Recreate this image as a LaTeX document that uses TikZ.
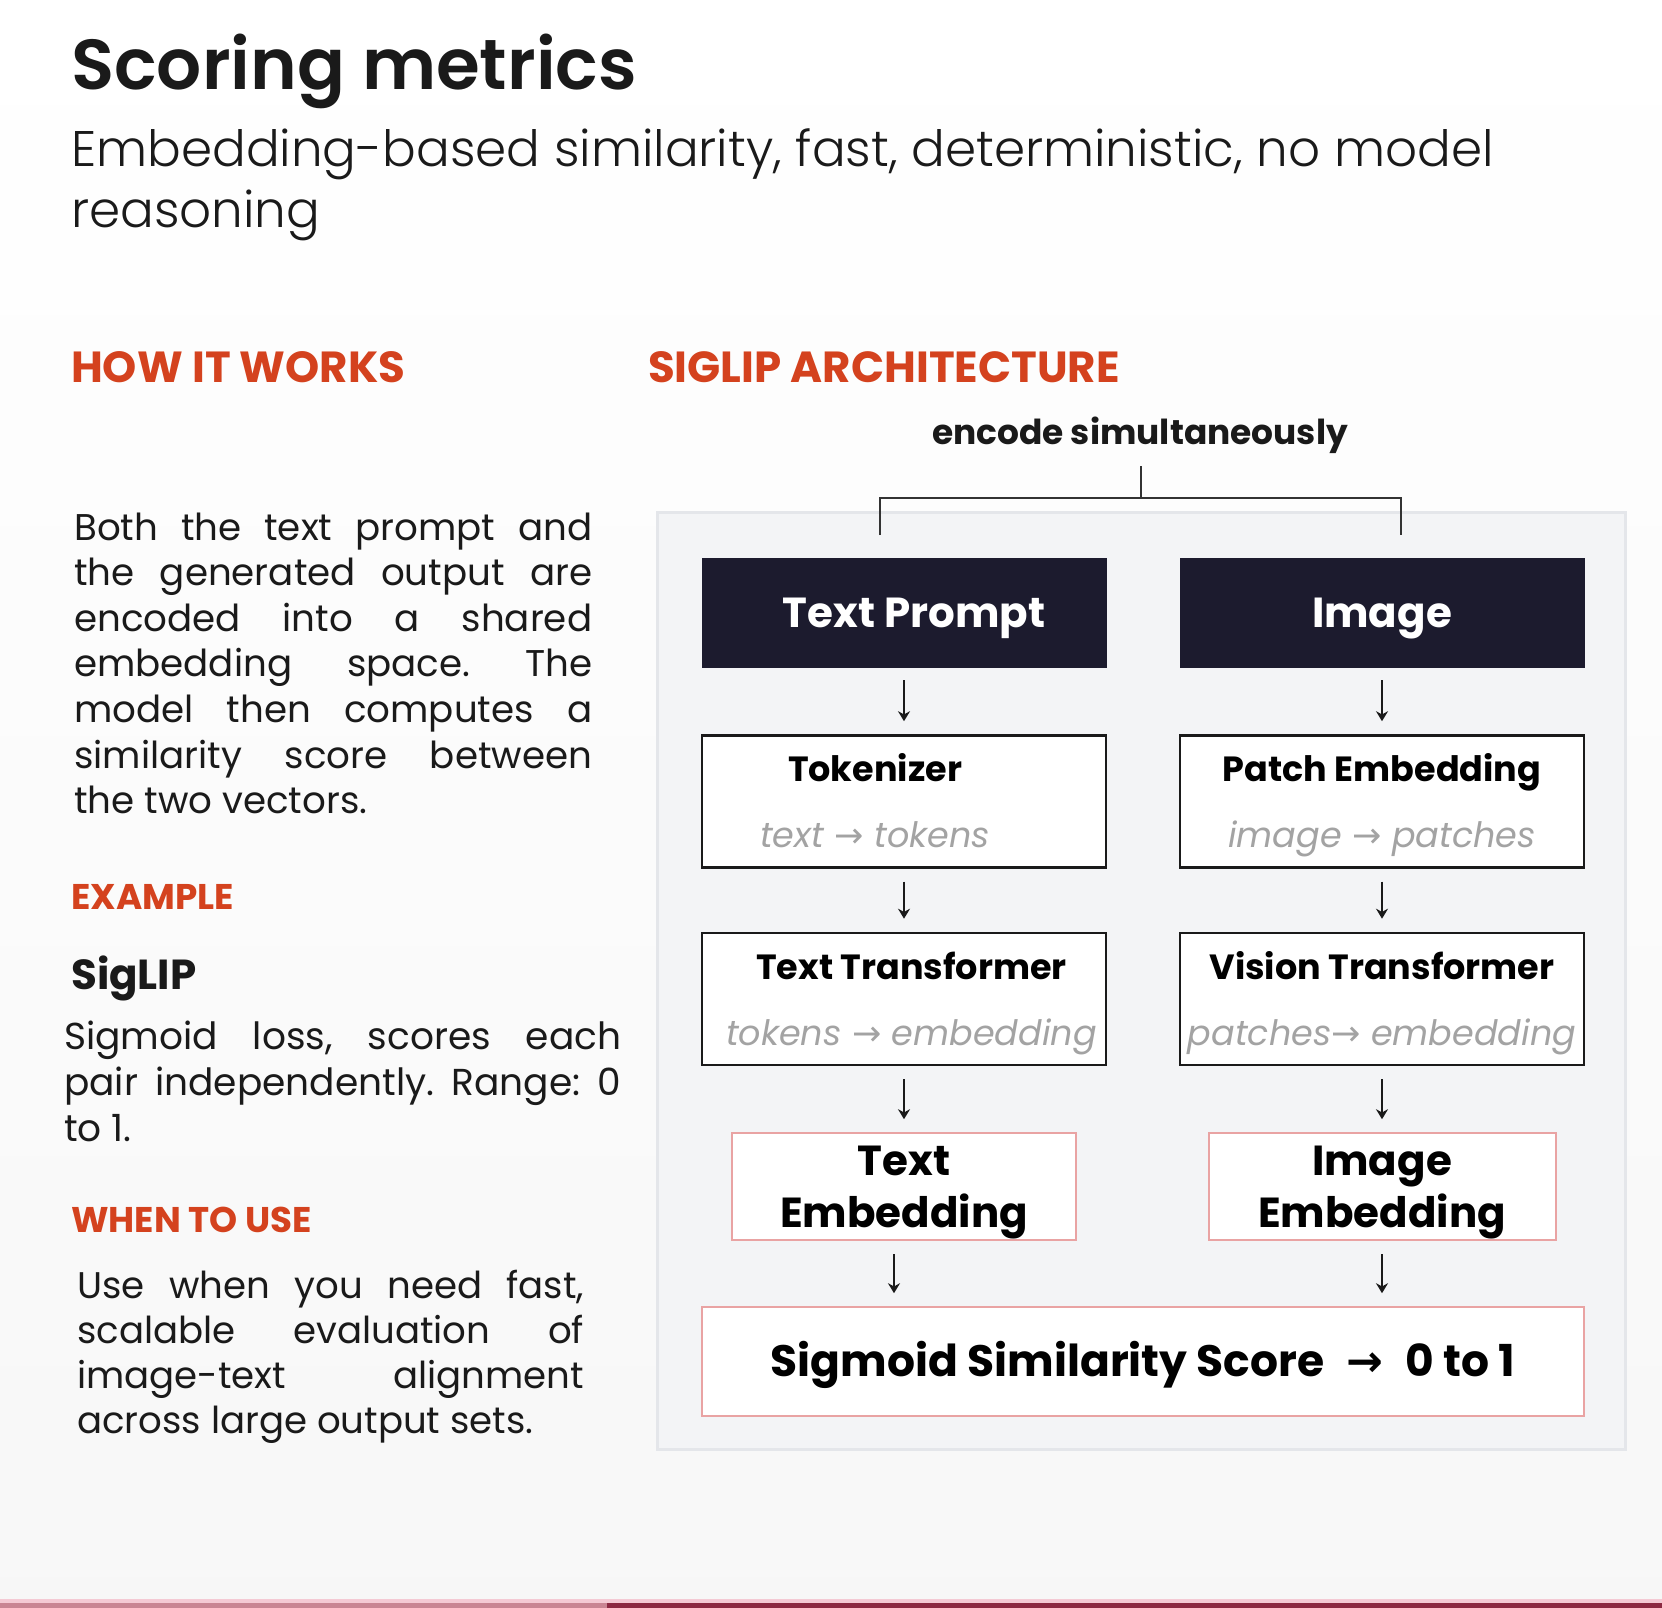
\documentclass[tikz,border=0pt]{standalone}
\usepackage{fontspec}
\setmainfont{Poppins}
\newfontfamily\semibold{Poppins SemiBold}
\newfontfamily\light{Poppins Light}
\newfontfamily\arrowfont{DejaVu Sans}
\usepackage{xcolor}
\usetikzlibrary{arrows.meta, positioning, calc}
\frenchspacing

\definecolor{accent}{HTML}{D4421E}
\definecolor{ink}{HTML}{1A1A1A}
\definecolor{navy}{HTML}{1C1B2E}
\definecolor{panelbg}{HTML}{F3F4F6}
\definecolor{panelrule}{HTML}{E4E6EA}
\definecolor{softred}{HTML}{E9A3A3}
\definecolor{hint}{HTML}{A3A3A3}
\definecolor{barpink}{HTML}{F4CAD4}
\definecolor{barlight}{HTML}{C98593}
\definecolor{bardark}{HTML}{8C2942}

% one justified line of a paragraph
\newcommand{\jl}[1]{\makebox[\hsize][s]{#1}}
\newcommand{\arr}{{\arrowfont\upshape →}}

\begin{document}
\begin{tikzpicture}[x=1pt, y=-1pt,
  heading/.style={anchor=base west, inner sep=0, text=accent, font=\fontsize{43.5}{50}\selectfont\bfseries},
  subhead/.style={heading, font=\fontsize{35.7}{44}\selectfont\bfseries},
  para/.style={anchor=base west, inner sep=0, align=justify, text=ink},
  inbox/.style={draw=navy, fill=navy, text=white, minimum width=404pt, minimum height=109pt, inner sep=0, text height=30pt, text depth=0pt, font=\fontsize{42}{50}\selectfont\bfseries},
  stage/.style={draw=ink, line width=2.5pt, fill=white, minimum width=404pt, minimum height=131pt, inner sep=0, align=center, font=\fontsize{35}{66}\selectfont},
  embed/.style={draw=softred, line width=2pt, fill=white, minimum width=344pt, minimum height=107pt, inner sep=0, align=center, text depth=0pt, font=\fontsize{42}{52}\selectfont\bfseries},
  score/.style={embed, minimum width=882pt, minimum height=109pt, text height=30pt, font=\fontsize{44}{52}\selectfont\bfseries},
  flow/.style={-{Stealth[length=10pt, width=12pt]}, line width=2pt, draw=ink, shorten <=13pt, shorten >=13pt},
  bracket/.style={line width=2.5pt, draw=black!80}
]
\useasboundingbox (0,0) rectangle (1662,1608);
\fill[top color=white, bottom color=black!3] (0,0) rectangle (1662,1608);
\fill[barpink] (0,1599) rectangle (1662,1603);
\fill[barlight] (0,1603) rectangle (607,1608);
\fill[bardark] (607,1603) rectangle (1662,1608);

% title
\node[anchor=base west, inner sep=0, text=ink, font=\fontsize{70.8}{80}\selectfont\semibold] (title) at (71,90) {Scoring metrics};
\node[anchor=base west, inner sep=0, align=left, text=ink, font=\fontsize{50}{60}\selectfont\light] (subtitle) at (71,227) {Embedding-based similarity, fast, deterministic, no model\\reasoning};

% left column
\node[heading] (how) at (71,382) {HOW IT WORKS};
\node[para, text width=518pt, font=\fontsize{37.2}{45.6}\selectfont] (howtxt) at (74,540) {\jl{Both the text prompt and}\\\jl{the generated output are}\\\jl{encoded into a shared}\\\jl{embedding space. The}\\\jl{model then computes a}\\\jl{similarity score between}\\the two vectors.};
\node[subhead] (example) at (71,909) {EXAMPLE};
\node[anchor=base west, inner sep=0, text=ink, font=\fontsize{42}{50}\selectfont\bfseries] (siglip) at (71,989) {SigLIP};
\node[para, text width=557pt, font=\fontsize{37.5}{46}\selectfont] (sigtxt) at (64,1049) {\jl{Sigmoid loss, scores each}\\\jl{pair independently. Range: 0}\\to 1.};
\node[subhead] (when) at (71,1232) {WHEN TO USE};
\node[para, text width=507pt, font=\fontsize{37.1}{45}\selectfont] (usetxt) at (77,1298) {\jl{Use when you need fast,}\\\jl{scalable evaluation of}\\\jl{image-text alignment}\\across large output sets.};

% architecture
\node[heading] (arch) at (648,382) {SIGLIP ARCHITECTURE};
\draw[panelrule, fill=panelbg, line width=3pt] (657,512) rectangle (1625,1449);

\node[anchor=base, inner sep=0, text=ink, font=\fontsize{34.4}{40}\selectfont\bfseries] (enc) at (1140,444) {encode simultaneously};
\coordinate (stem) at (1141,466);
\coordinate (fork) at (1141,498);
\coordinate (legl) at (880,535);
\coordinate (legr) at (1401,535);
\draw[bracket] (stem) -- (fork);
\draw[bracket] (legl) |- (fork) -| (legr);

\node[inbox] (prompt) at (904,612.5) {\hspace*{20pt}Text Prompt};
\node[inbox] (image) at (1382,612.5) {Image};
\node[stage, below=67pt of prompt] (tok) {\textbf{Tokenizer}\strut\hspace*{58pt}\\\textcolor{hint}{\itshape text \arr{} tokens}\strut\hspace*{58pt}};
\node[stage, below=67pt of image] (patch) {\textbf{Patch Embedding}\strut\\\textcolor{hint}{\itshape image \arr{} patches}\strut};
\node[stage, below=63pt of tok] (ttf) {\hspace*{15pt}\textbf{Text Transformer}\strut\\\hspace*{15pt}\textcolor{hint}{\itshape tokens \arr{} embedding}\strut};
\node[stage, below=63pt of patch] (vit) {\textbf{Vision Transformer}\strut\\\textcolor{hint}{\itshape patches\arr{} embedding}\strut};
\node[embed, below=66pt of ttf] (temb) {Text\\Embedding};
\node[embed, minimum width=347pt, below=66pt of vit] (iemb) {Image\\Embedding};
\coordinate (mid) at ($(temb.south)!0.5!(iemb.south)$);
\node[score, below=65pt of mid] (sim) {Sigmoid Similarity Score\hspace{0.5em}{\arrowfont\bfseries →}\hspace{0.5em}0 to 1};

\draw[flow] (prompt) -- (tok);
\draw[flow] (tok) -- (ttf);
\draw[flow] (ttf) -- (temb);
\draw[flow] ([xshift=-10pt]temb.south) -- ([xshift=-10pt]temb.south |- sim.north);
\draw[flow] (image) -- (patch);
\draw[flow] (patch) -- (vit);
\draw[flow] (vit) -- (iemb);
\draw[flow] (iemb) -- (sim.north -| iemb);
\end{tikzpicture}
\end{document}
